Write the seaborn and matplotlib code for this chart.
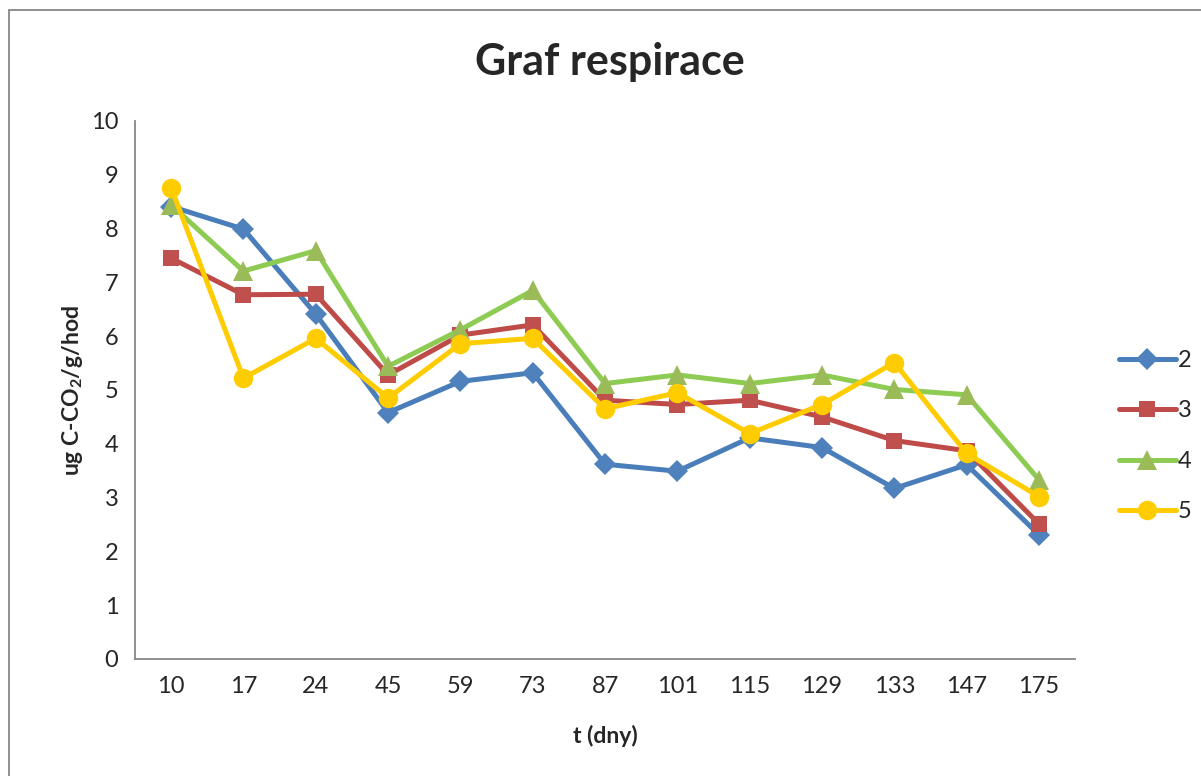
import pandas as pd
import matplotlib
matplotlib.use('Agg')
import matplotlib.pyplot as plt
import seaborn as sns
from matplotlib.patches import Rectangle

days = ['10', '17', '24', '45', '59', '73', '87', '101', '115', '129', '133', '147', '175']
s2 = [8.41, 7.99, 6.41, 4.58, 5.16, 5.32, 3.62, 3.49, 4.11, 3.93, 3.17, 3.61, 2.31]
s3 = [7.45, 6.77, 6.78, 5.28, 6.02, 6.21, 4.81, 4.73, 4.81, 4.50, 4.06, 3.87, 2.51]
s4 = [8.44, 7.21, 7.59, 5.44, 6.12, 6.85, 5.12, 5.28, 5.12, 5.28, 5.01, 4.91, 3.33]
s5 = [8.76, 5.22, 5.96, 4.85, 5.86, 5.96, 4.65, 4.95, 4.19, 4.73, 5.51, 3.82, 3.02]

sns.set_style('white')
plt.rcParams['font.family'] = ['Lato', 'DejaVu Sans']

fig = plt.figure(figsize=(12.01, 7.76), dpi=100)
ax = fig.add_axes([0.1124, 0.1508, 0.7828, 0.6933])

# (name, values, line colour, marker colour, marker, size)
series = [
    ('2', s2, '#4A7EBB', '#4F81BD', 'D', 11),
    ('3', s3, '#BE4B48', '#C0504D', 's', 12),
    ('4', s4, '#8DCB52', '#9BBB59', '^', 14),
    ('5', s5, '#FFCC00', '#FFCC00', 'o', 14),
]

for name, vals, lc, mc, mk, ms in series:
    df = pd.DataFrame({'t': days, 'v': vals})
    sns.lineplot(data=df, x='t', y='v', ax=ax, color=lc, lw=3.6, marker=mk,
                 markersize=ms, markerfacecolor=mc, markeredgecolor=mc,
                 markeredgewidth=0, label=name, sort=False)

ax.set_xlim(-0.5, len(days) - 0.5)
ax.set_ylim(0, 10)
ax.set_yticks(range(0, 11))
ax.tick_params(axis='both', labelsize=17, length=0, pad=12)
for sp in ['top', 'right']:
    ax.spines[sp].set_visible(False)
for sp in ['left', 'bottom']:
    ax.spines[sp].set_color('#868686')
    ax.spines[sp].set_linewidth(1.3)

ax.set_xlabel('t (dny)', fontsize=16.5, fontweight='bold', labelpad=20)
ax.set_ylabel('ug C-CO$_\\mathregular{2}$/g/hod', fontsize=16.5, fontweight='bold', labelpad=4)

fig.text(0.508, 0.92, 'Graf respirace', ha='center', va='center',
         fontsize=31, fontweight='bold')

ax.legend(loc='center left', bbox_to_anchor=(0.914, 0.438), bbox_transform=fig.transFigure,
          frameon=False, fontsize=17, handlelength=2.4, handletextpad=0.1,
          labelspacing=1.25)

fig.patches.append(Rectangle((8.5 / 1201, -0.05), 1.1, 1 - 10.5 / 776 + 0.05,
                             transform=fig.transFigure, fill=False,
                             edgecolor='#868686', lw=1.3))

fig.savefig('out.png', dpi=100)
